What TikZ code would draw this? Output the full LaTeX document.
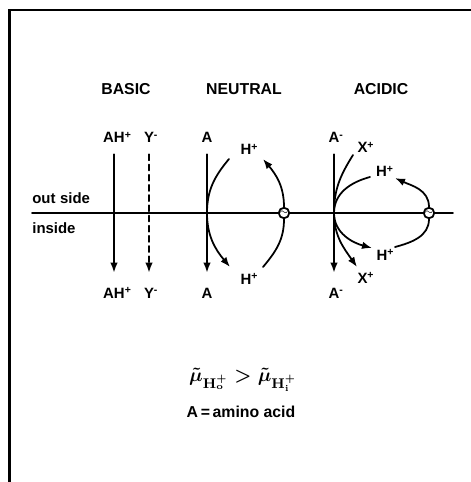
\documentclass[tikz,border=0pt]{standalone}
\usepackage{fontspec}
\setmainfont{Liberation Sans}
\usetikzlibrary{arrows.meta}
\newcommand{\chg}[2]{#1\rlap{\textsuperscript{#2}}}

\begin{document}
\begin{tikzpicture}[line cap=round,
  flux/.style={-{Latex[length=2mm,width=1.5mm]},line width=1pt},
  vflux/.style={flux,shorten <=0.22cm,shorten >=0.30cm},
  pump/.style={circle,draw,line width=1pt,fill=white,inner sep=0pt,minimum size=2.1mm},
  lab/.style={font=\fontsize{8.5}{9}\selectfont\bfseries,inner sep=0pt,text height=2mm,text depth=0pt},
  head/.style={font=\fontsize{9}{10}\selectfont\bfseries,inner sep=0pt}]
  \useasboundingbox (0,4.26) rectangle (9.42,-5.38);
  % frame (top and left edge only)
  \draw[line width=1.2pt] (9.42,4.06) -- (0.19,4.06) -- (0.19,-5.38);
  % membrane
  \draw[line width=1pt] (0.64,0) -- (9.06,0);
  \node[lab,anchor=base west] (outs) at (0.64,0.20) {out\hspace{0.3em}side};
  \node[lab,anchor=base west] (ins) at (0.64,-0.40) {inside};
  % headings
  \node[head] (basic) at (2.52,2.47) {BASIC};
  \node[head] (neutral) at (4.88,2.47) {NEUTRAL};
  \node[head] (acidic) at (7.62,2.47) {ACIDIC};
  % ---- basic: AH+ inward, Y- inward (dashed) ----
  \node[lab] (bAHo) at (2.28,1.50) {\chg{AH}{+}};
  \node[lab] (bAHi) at (2.28,-1.60) {\chg{AH}{+}};
  \node[lab] (bYo) at (2.98,1.50) {\chg{Y}{-}};
  \node[lab] (bYi) at (2.98,-1.60) {\chg{Y}{-}};
  \draw[vflux] (bAHo) -- (bAHi);
  \draw[vflux,dash pattern=on 3.4pt off 2.4pt] (bYo) -- (bYi);
  % ---- neutral: A inward with H+ ----
  \node[lab] (nAo) at (4.14,1.50) {A};
  \node[lab] (nAi) at (4.14,-1.60) {A};
  \node[lab] (nHo) at (4.92,1.26) {\chg{H}{+}};
  \node[lab] (nHi) at (4.92,-1.32) {\chg{H}{+}};
  \draw[vflux] (nAo) -- (nAi);
  \coordinate (nX) at (4.14,0);
  \coordinate (nCs) at (4.58,1.08);
  \coordinate (nCe) at (4.60,-1.08);
  \draw[flux] (nCs) to[out=-130,in=90] (nX) to[out=-90,in=130] (nCe);
  % pump pushes H+ back out
  \node[pump] (nP) at (5.68,0) {\tiny$\sim$};
  \coordinate (nPs) at (5.26,-1.08);
  \coordinate (nPe) at (5.26,1.08);
  \draw[flux] (nPs) to[out=50,in=-90] (nP) to[out=90,in=-50] (nPe);
  % ---- acidic: A- inward with X+ and H+ ----
  \node[lab] (aAo) at (6.68,1.50) {\chg{A}{-}};
  \node[lab] (aAi) at (6.68,-1.60) {\chg{A}{-}};
  \node[lab] (aXo) at (7.25,1.30) {\chg{X}{+}};
  \node[lab] (aXi) at (7.25,-1.30) {\chg{X}{+}};
  \node[lab] (aHo) at (7.63,0.82) {\chg{H}{+}};
  \node[lab] (aHi) at (7.64,-0.84) {\chg{H}{+}};
  \draw[vflux] (aAo) -- (aAi);
  \coordinate (aX) at (6.68,0);
  \coordinate (aXs) at (7.06,1.16);
  \coordinate (aXe) at (7.14,-1.08);
  \coordinate (aHs) at (7.40,0.72);
  \coordinate (aHe) at (7.44,-0.70);
  \draw[flux] (aXs) to[out=-122,in=90] (aX) to[out=-90,in=125] (aXe);
  \draw[flux] (aHs) to[out=195,in=90] (aX) to[out=-90,in=165] (aHe);
  \node[pump] (aP) at (8.58,0) {\tiny$\sim$};
  \coordinate (aPs) at (7.90,-0.68);
  \coordinate (aPe) at (7.90,0.70);
  \draw[flux] (aPs) to[out=15,in=-90] (aP) to[out=90,in=-25] (aPe);
  % legend
  \node[font=\fontsize{11}{12}\selectfont\boldmath] (mu) at (4.86,-3.34)
    {$\tilde{\mu}_{\mathbf{H}^{+}_{\mathbf{o}}} > \tilde{\mu}_{\mathbf{H}^{+}_{\mathbf{i}}}$};
  \node[font=\fontsize{9}{10}\selectfont\bfseries] (key) at (4.82,-3.98) {A\,=\,amino acid};
\end{tikzpicture}
\end{document}
